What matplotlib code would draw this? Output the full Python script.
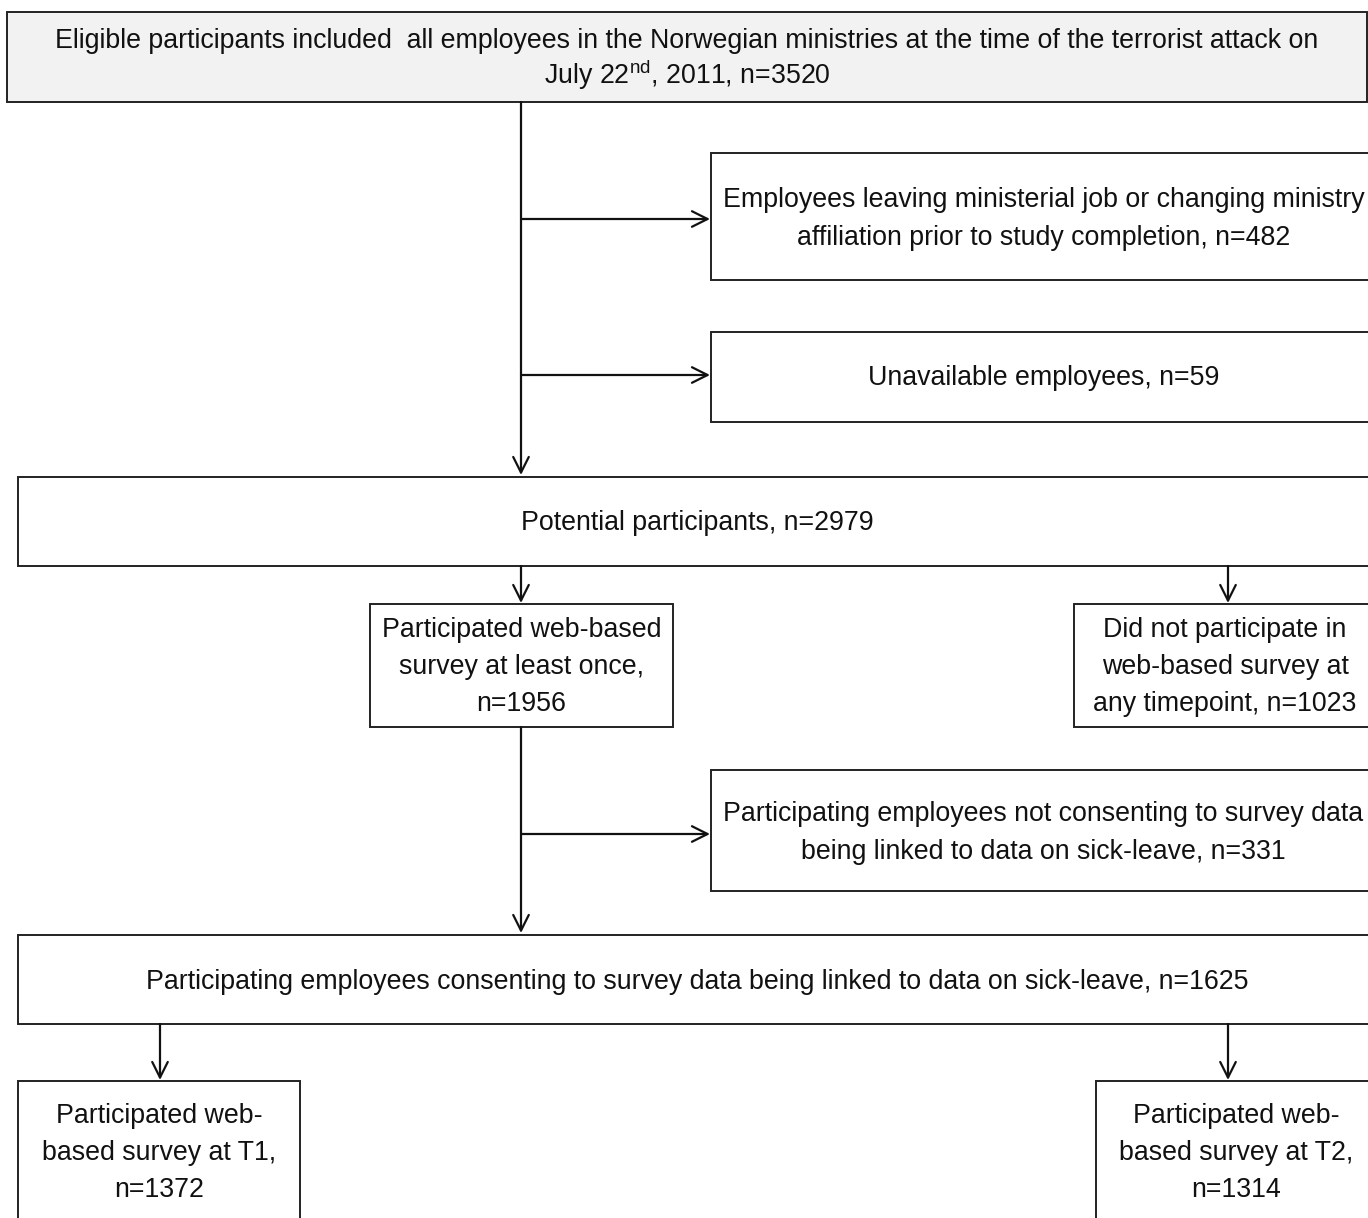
import matplotlib
matplotlib.use('Agg')
import matplotlib.pyplot as plt
from matplotlib.patches import Rectangle
from matplotlib import font_manager

# flowchart content
box_labels = [
    'Eligible participants included  all employees in the Norwegian ministries at the time of the terrorist attack on\n'
    'July 22$^{\\mathrm{nd}}$, 2011, n=3520',
    'Employees leaving ministerial job or changing ministry\naffiliation prior to study completion, n=482',
    'Unavailable employees, n=59',
    'Potential participants, n=2979',
    'Participated web-based\nsurvey at least once,\nn=1956',
    'Did not participate in\nweb-based survey at\nany timepoint, n=1023',
    'Participating employees not consenting to survey data\nbeing linked to data on sick-leave, n=331',
    'Participating employees consenting to survey data being linked to data on sick-leave, n=1625',
    'Participated web-\nbased survey at T1,\nn=1372',
    'Participated web-\nbased survey at T2,\nn=1314',
]

# layout in pixels: (left, top, right, bottom), text centre y
box_geom = [
    (7, 12, 1367, 102, 60),
    (711, 153, 1376, 280, 219),
    (711, 332, 1376, 422, 378),
    (18, 477, 1376, 566, 523),
    (370, 604, 673, 727, 667),
    (1074, 604, 1376, 727, 667),
    (711, 770, 1376, 891, 833),
    (18, 935, 1376, 1024, 982),
    (18, 1081, 300, 1260, 1153),
    (1096, 1081, 1376, 1260, 1153),
]
box_fill = ['#f2f2f2'] + ['white'] * 9
box_spacing = [1.13] + [1.57] * 9

# arrows: (x1, y1, x2, y2)
arrows = [
    (521, 102, 521, 475),
    (521, 219, 710, 219),
    (521, 375, 710, 375),
    (521, 566, 521, 603),
    (1228, 566, 1228, 603),
    (521, 727, 521, 933),
    (521, 834, 710, 834),
    (160, 1024, 160, 1080),
    (1228, 1024, 1228, 1080),
]

names = {f.name for f in font_manager.fontManager.ttflist}
fam = 'Liberation Sans Narrow' if 'Liberation Sans Narrow' in names else 'Liberation Sans'
plt.rcParams['font.family'] = [fam, 'DejaVu Sans']
plt.rcParams['mathtext.fontset'] = 'custom'
plt.rcParams['mathtext.rm'] = fam

W, H = 1368, 1218
fig = plt.figure(figsize=(W / 100, H / 100), dpi=100)
ax = fig.add_axes([0, 0, 1, 1])
ax.set_xlim(0, W)
ax.set_ylim(H, 0)
ax.axis('off')

fs = 22 if fam == 'Liberation Sans Narrow' else 19.3

for label, (l, t, r, b, ty), fc, ls in zip(box_labels, box_geom, box_fill, box_spacing):
    ax.add_patch(Rectangle((l, t), r - l, b - t, facecolor=fc, edgecolor='#222222', lw=1.4))
    ax.text((l + r) / 2, ty, label, ha='center', va='center', fontsize=fs,
            linespacing=ls, color='#111111')

for x1, y1, x2, y2 in arrows:
    ax.annotate('', xy=(x2, y2), xytext=(x1, y1),
                arrowprops=dict(arrowstyle='->', lw=1.6, color='#111111',
                                shrinkA=0, shrinkB=0, mutation_scale=28))

fig.savefig('out.png', dpi=100)
